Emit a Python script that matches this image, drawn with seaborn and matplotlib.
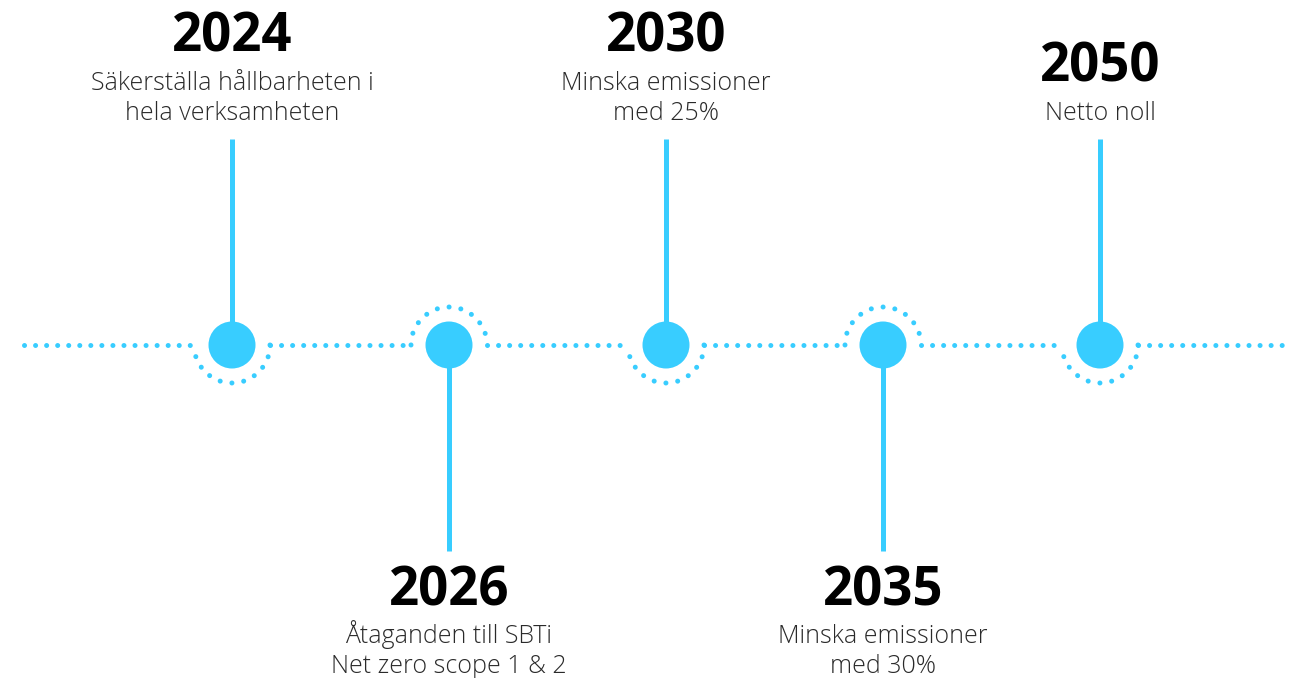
import matplotlib
matplotlib.use("Agg")
import matplotlib.pyplot as plt
from matplotlib.patches import Arc
import numpy as np
import pandas as pd
import seaborn as sns

# ---- data ----
years = ["2024", "2026", "2030", "2035", "2050"]
descriptions = [
    "Säkerställa hållbarheten i\nhela verksamheten",
    "Åtaganden till SBTi\nNet zero scope 1 & 2",
    "Minska emissioner\nmed 25%",
    "Minska emissioner\nmed 30%",
    "Netto noll",
]
sides = ["up", "down", "up", "down", "up"]

# ---- style / layout ----
BLUE = "#38CDFF"
W, H = 1290, 678
X0, STEP = 232, 217         # pixel layout of milestones
LINE_Y = 345                # y of timeline (pixels from top)
HALO_R = 38
STEM_LEN = 206
PX2PT = 72 / 100

sns.set_theme(style="white")
plt.rcParams["font.family"] = ["Open Sans", "DejaVu Sans"]

fig = plt.figure(figsize=(W / 100, H / 100), dpi=100)
ax = fig.add_axes([0, 0, 1, 1])

df = pd.DataFrame({"year": years, "desc": descriptions, "side": sides})
df["x"] = X0 + np.arange(len(df)) * STEP
df["y"] = LINE_Y

DOT_PX = 5.0
dot_lw = DOT_PX * PX2PT
# dotted timeline segments between halos
edges = [24] + [v for x in df["x"] for v in (x - HALO_R, x + HALO_R)] + [W - 2]
for a, b in zip(edges[::2], edges[1::2]):
    ax.plot([a, b], [LINE_Y, LINE_Y], color=BLUE, lw=dot_lw,
            linestyle=(0, (0.01, 11.0 / DOT_PX)), dash_capstyle="round", zorder=1)

# halos (dotted semicircles opposite to the stem)
for _, r in df.iterrows():
    if r["side"] == "up":
        t1, t2 = 0, 180      # below on screen (inverted y)
    else:
        t1, t2 = 180, 360    # above on screen
    arc = Arc((r["x"], r["y"]), 2 * HALO_R, 2 * HALO_R, theta1=t1, theta2=t2,
              color=BLUE, lw=dot_lw, linestyle=(0, (0.01, 11.9 / DOT_PX)),
              capstyle="round", zorder=1)
    ax.add_patch(arc)

# stems
for _, r in df.iterrows():
    end = r["y"] - STEM_LEN if r["side"] == "up" else r["y"] + STEM_LEN
    ax.plot([r["x"], r["x"]], [r["y"], end], color=BLUE, lw=5 * PX2PT,
            solid_capstyle="butt", zorder=2)

# main circles
sns.scatterplot(data=df, x="x", y="y", s=(47 * PX2PT) ** 2, color=BLUE,
                edgecolor="none", linewidth=0, ax=ax, zorder=3, legend=False)
ax.set_xlim(0, W)
ax.set_ylim(H, 0)
ax.axis("off")

# texts
LINE_H = 30
for _, r in df.iterrows():
    lines = r["desc"].split("\n")
    n = len(lines)
    if r["side"] == "up":
        last_base = LINE_Y - STEM_LEN - 19
        first_base = last_base - (n - 1) * LINE_H
    else:
        first_base = LINE_Y + STEM_LEN + 92
    for k, t in enumerate(lines):
        ax.text(r["x"], first_base + k * LINE_H, t, ha="center", va="baseline",
                fontsize=18, fontweight="light", color="#2a2a2a")
    ax.text(r["x"], first_base - 38, r["year"], ha="center", va="baseline",
            fontsize=38, fontweight="bold", color="#000000")

fig.savefig("out.png", dpi=100)
